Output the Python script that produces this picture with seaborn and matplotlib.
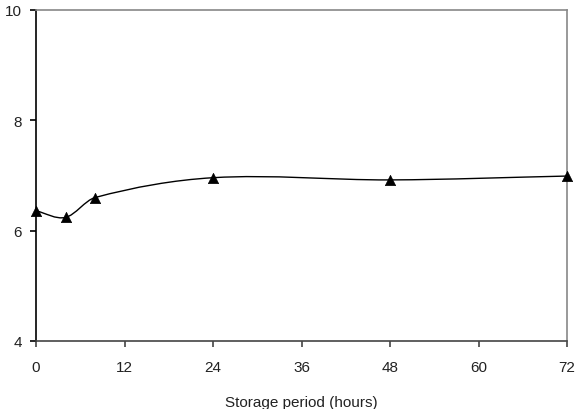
import numpy as np
import pandas as pd
import matplotlib
matplotlib.use("Agg")
import matplotlib.pyplot as plt
from matplotlib.path import Path
from matplotlib.patches import PathPatch
import seaborn as sns

hours = [0, 4, 8, 24, 48, 72]
values = [6.36, 6.24, 6.60, 6.96, 6.92, 6.99]
x_ticks = [0, 12, 24, 36, 48, 60, 72]
y_ticks = [4, 6, 8, 10]

sns.set_theme(style="white")
plt.rcParams['font.family'] = ['Liberation Sans', 'DejaVu Sans']

fig = plt.figure(figsize=(5.86, 4.10), dpi=100)
ax = fig.add_axes([36/586, 1 - 342/410, (567-36)/586, (342-11)/410])

df = pd.DataFrame({"hours": hours, "value": values})

# smoothed connecting line (cubic Bezier segments through the data points)
x = np.asarray(hours, float)
y = np.asarray(values, float)
n = len(x)
slopes = np.zeros(n)
for i in range(n):
    a = max(i - 1, 0)
    b = min(i + 1, n - 1)
    slopes[i] = (y[b] - y[a]) / (x[b] - x[a])
verts = [(x[0], y[0])]
codes = [Path.MOVETO]
for i in range(n - 1):
    h = x[i + 1] - x[i]
    c1 = (x[i] + h / 3, y[i] + slopes[i] * h / 3)
    c2 = (x[i + 1] - h / 3, y[i + 1] - slopes[i + 1] * h / 3)
    verts += [c1, c2, (x[i + 1], y[i + 1])]
    codes += [Path.CURVE4] * 3
ax.add_patch(PathPatch(Path(verts, codes), facecolor='none', edgecolor='black', lw=1.0, zorder=2))

sns.scatterplot(data=df, x="hours", y="value", marker="^", color="black", s=55,
                edgecolor="black", linewidth=0.5, ax=ax, zorder=3, clip_on=False)

ax.set_xlim(0, 72)
ax.set_ylim(4, 10)
ax.set_xticks(x_ticks)
ax.set_yticks(y_ticks)
ax.set_xticklabels([str(t) for t in x_ticks])
ax.set_yticklabels([str(t) for t in y_ticks])
ax.set_xlabel("Storage period (hours)", fontsize=11, color="#222222", labelpad=15)
ax.set_ylabel("")

for s in ["top", "right"]:
    ax.spines[s].set_color("#888888")
    ax.spines[s].set_linewidth(1.2)
ax.spines["left"].set_color("black")
ax.spines["left"].set_linewidth(1.2)
ax.spines["bottom"].set_color("#444444")
ax.spines["bottom"].set_linewidth(1.2)

ax.tick_params(axis='both', which='major', direction='out', length=4, width=1.2,
               labelsize=11, labelcolor='#222222', bottom=True, left=True)
ax.tick_params(axis='x', color='#444444', pad=10)
ax.tick_params(axis='y', color='black', pad=6)
ax.grid(False)

fig.savefig("out.png", dpi=100, facecolor="white")
